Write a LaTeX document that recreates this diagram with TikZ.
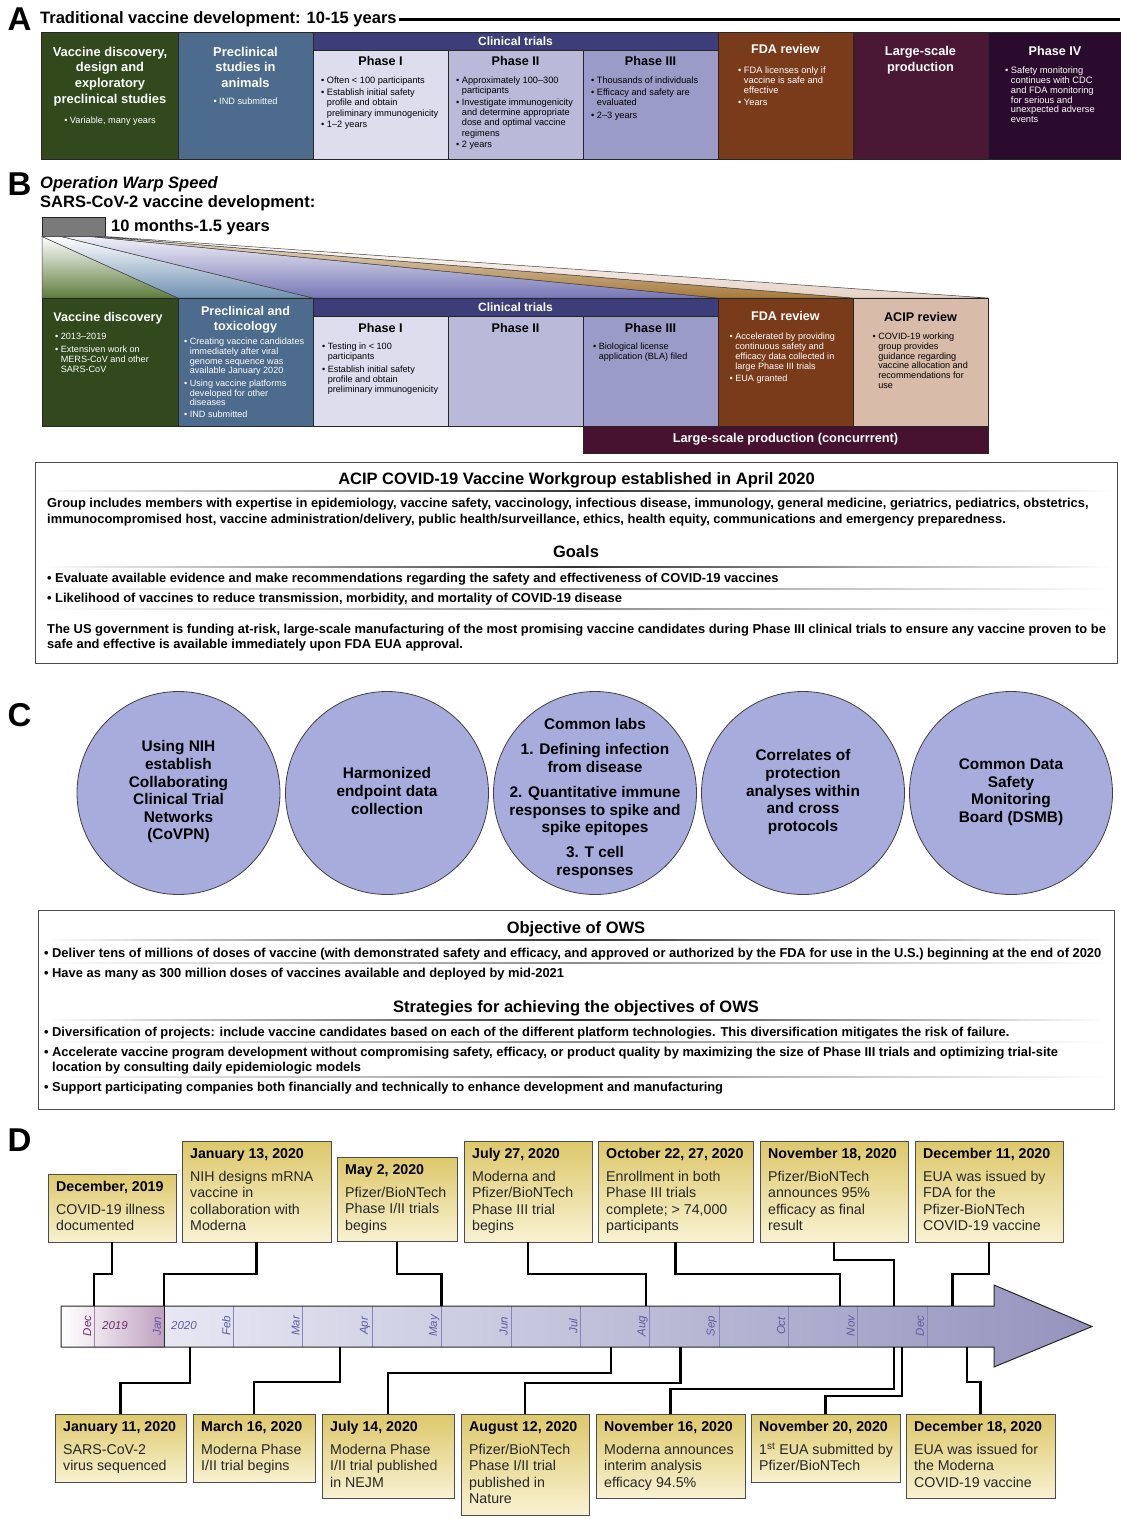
\documentclass[tikz,border=0pt]{standalone}
\usepackage{fontspec}
\setmainfont{Liberation Sans}
\definecolor{cGreen}{HTML}{31491D}
\definecolor{cBlue}{HTML}{4D6B8C}
\definecolor{cCT}{HTML}{3D3D7A}
\definecolor{cP1}{HTML}{DDDDEE}
\definecolor{cP2}{HTML}{B9B9DA}
\definecolor{cP3}{HTML}{9B9BC8}
\definecolor{cFDA}{HTML}{7A3B1B}
\definecolor{cLSP}{HTML}{4A1834}
\definecolor{cP4}{HTML}{2B0B2D}
\definecolor{cACIP}{HTML}{D9BBAA}
\definecolor{cLSPb}{HTML}{46122F}
\definecolor{cGray}{HTML}{7A7A7A}
\definecolor{cCirc}{HTML}{A8ACDD}
\definecolor{evT}{HTML}{DDC86A}
\definecolor{evB}{HTML}{F8F2D2}
\definecolor{cMon}{HTML}{5D5DA2}
\definecolor{cNine}{HTML}{6E2C70}
\definecolor{cDiv}{HTML}{8585BE}
\definecolor{wG}{HTML}{5F7D3E}
\definecolor{wB}{HTML}{7090B2}
\definecolor{wP}{HTML}{7676B6}
\definecolor{wT}{HTML}{A77A3C}
\definecolor{wL}{HTML}{E6D2C6}
\newcommand{\fsz}[2]{\fontsize{#1}{#2}\selectfont}
\newcommand{\mybul}{\makebox[0.62em][l]{•}}
\newcommand{\myind}{\hspace*{0.62em}}
\newcommand{\evbox}[7]{%
  \node[evb, minimum width=#3, minimum height={35+16.5*#5}] (#1) at (#2,#4) {};
  \node[evt, anchor=north west] (#1t) at ([shift={(8,6.9)}]#1.north west) {{\color{black}\bfseries #6}\\[6.5pt]#7};
}
\newcommand{\fadeline}[4]{\shade[left color=white, right color=white, middle color=#4] (#1,{#3-0.6}) rectangle (#2,{#3+0.6});}
\begin{document}
\begin{tikzpicture}[x=1pt,y=-1pt,
  bxs/.style={draw=black!85, line width=0.6pt, inner sep=0pt, outer sep=0pt, anchor=north west},
  ttl/.style={inner sep=0pt, align=center, font=\bfseries\fsz{12.9}{15.7}},
  tx/.style={inner sep=0pt, align=left, anchor=north west},
  smA/.style={font=\fsz{9.2}{10.4}},
  smB/.style={font=\fsz{9.1}{10}},
  big/.style={inner sep=0pt, anchor=north west, font=\bfseries\fsz{33}{33}},
  hd/.style={inner sep=0pt, anchor=base west, font=\bfseries\fsz{16.5}{18}},
  sect/.style={inner sep=0pt, anchor=base, font=\bfseries\fsz{16.5}{18}},
  pb/.style={inner sep=0pt, align=left, anchor=north west, font=\bfseries\fsz{12.9}{15.5}},
  circ/.style={circle, draw=black!75, line width=0.8pt, fill=cCirc, minimum size=203, inner sep=0pt},
  ctx/.style={inner sep=0pt, align=center, anchor=north, font=\bfseries\fsz{15.4}{17.6}},
  mon/.style={inner sep=0pt, rotate=90, font=\itshape\fsz{11.5}{12}, text=cMon},
  conn/.style={line width=2.4pt, line join=miter},
  evb/.style={draw=black!70, line width=1pt, top color=evT, bottom color=evB, inner sep=0pt, outer sep=0pt, anchor=north west},
  evt/.style={inner sep=0pt, align=left, font=\fsz{14.2}{16.5}, text=black!85}
]
\useasboundingbox (0,0) rectangle (1120,1519);

% ================= A =================
\node[big] (labA) at (7.5,7.5) {A};
\node[hd] (titA) at (40,23.5) {Traditional vaccine development: 10-15 years};
\coordinate (lineA) at (1120,19.5);
\draw[line width=2.2pt] ([xshift=2pt]titA.east |- lineA) -- (lineA);

\node[bxs, fill=cGreen, minimum width=137, minimum height=127] (a1) at (41,32) {};
\node[bxs, fill=cBlue, minimum width=135, minimum height=127] (a2) at (178,32) {};
\node[bxs, fill=cCT, minimum width=405, minimum height=18] (a3) at (313,32) {};
\node[bxs, fill=cP1, minimum width=135, minimum height=109] (a4) at (313,50) {};
\node[bxs, fill=cP2, minimum width=135, minimum height=109] (a5) at (448,50) {};
\node[bxs, fill=cP3, minimum width=135, minimum height=109] (a6) at (583,50) {};
\node[bxs, fill=cFDA, minimum width=135, minimum height=127] (a7) at (718,32) {};
\node[bxs, fill=cLSP, minimum width=135, minimum height=127] (a8) at (853,32) {};
\node[bxs, fill=cP4, minimum width=133, minimum height=127] (a9) at (988,32) {};

\node[ttl, text=white, anchor=north] (a1t) at (110,46.5) {Vaccine discovery,\\design and\\exploratory\\preclinical studies};
\node[smA, inner sep=0pt, text=white] (a1b) at (110,121) {\mybul Variable, many years};
\node[ttl, text=white, anchor=north] (a2t) at (245.5,46.5) {Preclinical\\studies in\\animals};
\node[smA, inner sep=0pt, text=white] (a2b) at (245.5,101) {\mybul IND submitted};
\node[inner sep=0pt, text=white, font=\bfseries\fsz{12}{14}] (a3t) at (515.5,41) {Clinical trials};
\node[inner sep=0pt, font=\bfseries\fsz{12.6}{14}] (a4t) at (380.5,61) {Phase I};
\node[inner sep=0pt, font=\bfseries\fsz{12.6}{14}] (a5t) at (515.5,61) {Phase II};
\node[inner sep=0pt, font=\bfseries\fsz{12.6}{14}] (a6t) at (650.5,61) {Phase III};
\node[tx, smA] (a4b) at (321,76.7) {\mybul Often < 100 participants\\[1.4pt]\mybul Establish initial safety\\\myind profile and obtain\\\myind preliminary immunogenicity\\[1.4pt]\mybul 1–2 years};
\node[tx, smA, font=\fsz{9.2}{10.2}] (a5b) at (456,76.7) {\mybul Approximately 100–300\\\myind participants\\[1.6pt]\mybul Investigate immunogenicity\\\myind and determine appropriate\\\myind dose and optimal vaccine\\\myind regimens\\[1.6pt]\mybul 2 years};
\node[tx, smA] (a6b) at (591,76.7) {\mybul Thousands of individuals\\[1.4pt]\mybul Efficacy and safety are\\\myind evaluated\\[2.4pt]\mybul 2–3 years};
\node[inner sep=0pt, text=white, font=\bfseries\fsz{12.6}{14}] (a7t) at (785.5,49) {FDA review};
\node[tx, text=white, font=\fsz{9.3}{9.8}] (a7b) at (738,66.7) {\mybul FDA licenses only if\\\myind vaccine is safe and\\\myind effective\\[2pt]\mybul Years};
\node[ttl, text=white, anchor=north, font=\bfseries\fsz{12.8}{15.8}] (a8t) at (920.5,46.5) {Large-scale\\production};
\node[inner sep=0pt, text=white, font=\bfseries\fsz{12.6}{14}] (a9t) at (1055,51) {Phase IV};
\node[tx, text=white, font=\fsz{9.3}{9.8}] (a9b) at (1005,66.7) {\mybul Safety monitoring\\\myind continues with CDC\\\myind and FDA monitoring\\\myind for serious and\\\myind unexpected adverse\\\myind events};

% ================= B =================
\node[big] (labB) at (7.5,172.5) {B};
\node[hd, font=\bfseries\itshape\fsz{16.5}{18}] (titB1) at (40,188) {Operation Warp Speed};
\node[hd] (titB2) at (40,207) {SARS-CoV-2 vaccine development:};
\node[bxs, fill=cGray, minimum width=63, minimum height=19.5] (b0) at (42,217) {};
\node[hd] (b0t) at (111,231) {10 months-1.5 years};

% wedges
\shade[top color=white, bottom color=wG, draw=black!75, line width=0.5pt] (42,236.5) -- (178,298) -- (42,298) -- cycle;
\shade[top color=white, bottom color=wB, draw=black!75, line width=0.5pt] (42,236.5) -- (61,236.5) -- (313,298) -- (178,298) -- cycle;
\shade[top color=cP1!40!white, bottom color=wP, draw=black!75, line width=0.5pt] (61,236.5) -- (90,236.5) -- (718,298) -- (313,298) -- cycle;
\shade[top color=wT!25!white, bottom color=wT, draw=black!75, line width=0.5pt] (90,236.5) -- (98,236.5) -- (853,298) -- (718,298) -- cycle;
\shade[top color=white, bottom color=wL, draw=black!75, line width=0.5pt] (98,236.5) -- (105,236.5) -- (988,298) -- (853,298) -- cycle;

\node[bxs, fill=cGreen, minimum width=136, minimum height=128] (b1) at (42,298) {};
\node[bxs, fill=cBlue, minimum width=135, minimum height=128] (b2) at (178,298) {};
\node[bxs, fill=cCT, minimum width=405, minimum height=18] (b3) at (313,298) {};
\node[bxs, fill=cP1, minimum width=135, minimum height=110] (b4) at (313,316) {};
\node[bxs, fill=cP2, minimum width=135, minimum height=110] (b5) at (448,316) {};
\node[bxs, fill=cP3, minimum width=135, minimum height=110] (b6) at (583,316) {};
\node[bxs, fill=cFDA, minimum width=135, minimum height=128] (b7) at (718,298) {};
\node[bxs, fill=cACIP, minimum width=135, minimum height=128] (b8) at (853,298) {};
\node[bxs, fill=cLSPb, minimum width=405, minimum height=27] (b9) at (583,426) {};

\node[inner sep=0pt, text=white, font=\bfseries\fsz{12.6}{14}] (b1t) at (108,318.5) {Vaccine discovery};
\node[tx, smB, text=white] (b1b) at (55,332.8) {\mybul 2013–2019\\[3pt]\mybul Extensiven work on\\\myind MERS-CoV and other\\\myind SARS-CoV};
\node[ttl, text=white, anchor=north, font=\bfseries\fsz{12.6}{15}] (b2t) at (245.5,306.4) {Preclinical and\\toxicology};
\node[tx, smB, font=\fsz{9.1}{9.8}, text=white] (b2b) at (184,337.7) {\mybul Creating vaccine candidates\\\myind immediately after viral\\\myind genome sequence was\\\myind available January 2020\\[2.6pt]\mybul Using vaccine platforms\\\myind developed for other\\\myind diseases\\[2.2pt]\mybul IND submitted};
\node[inner sep=0pt, text=white, font=\bfseries\fsz{12}{14}] (b3t) at (515.5,307) {Clinical trials};
\node[inner sep=0pt, font=\bfseries\fsz{12.6}{14}] (b4t) at (380.5,328) {Phase I};
\node[inner sep=0pt, font=\bfseries\fsz{12.6}{14}] (b5t) at (515.5,328) {Phase II};
\node[inner sep=0pt, font=\bfseries\fsz{12.6}{14}] (b6t) at (650.5,328) {Phase III};
\node[tx, smB] (b4b) at (322,342.7) {\mybul Testing in < 100\\\myind participants\\[3pt]\mybul Establish initial safety\\\myind profile and obtain\\\myind preliminary immunogenicity};
\node[tx, smB] (b6b) at (593,342.7) {\mybul Biological license\\\myind application (BLA) filed};
\node[inner sep=0pt, text=white, font=\bfseries\fsz{12.6}{14}] (b7t) at (785.5,316) {FDA review};
\node[tx, smB, text=white] (b7b) at (729.5,332.7) {\mybul Accelerated by providing\\\myind continuous safety and\\\myind efficacy data collected in\\\myind large Phase III trials\\[2pt]\mybul EUA granted};
\node[inner sep=0pt, font=\bfseries\fsz{12.6}{14}] (b8t) at (920.5,317) {ACIP review};
\node[tx, smB, font=\fsz{9.1}{9.8}] (b8b) at (872.5,332.7) {\mybul COVID-19 working\\\myind group provides\\\myind guidance regarding\\\myind vaccine allocation and\\\myind recommendations for\\\myind use};
\node[inner sep=0pt, text=white, font=\bfseries\fsz{12.8}{14}] (b9t) at (785.5,439) {Large-scale production (concurrrent)};

% ACIP box
\node[bxs, draw=black!70, line width=0.8pt, minimum width=1082, minimum height=201] (acip) at (35,462) {};
\node[sect] (acT) at (576.5,484.8) {ACIP COVID-19 Vaccine Workgroup established in April 2020};
\fadeline{40}{1112}{491}{black!80}
\node[pb, font=\bfseries\fsz{12.9}{16}] (acP) at (47,498.4) {Group includes members with expertise in epidemiology, vaccine safety, vaccinology, infectious disease, immunology, general medicine, geriatrics, pediatrics, obstetrics,\\immunocompromised host, vaccine administration/delivery, public health/surveillance, ethics, health equity, communications and emergency preparedness.};
\node[sect] (acG) at (576,557.9) {Goals};
\fadeline{40}{1112}{567}{black!80}
\node[pb] (acB1) at (47,573.4) {\mybul Evaluate available evidence and make recommendations regarding the safety and effectiveness of COVID-19 vaccines};
\fadeline{40}{1112}{589}{black!45}
\node[pb] (acB2) at (47,593.4) {\mybul Likelihood of vaccines to reduce transmission, morbidity, and mortality of COVID-19 disease};
\fadeline{40}{1112}{609}{black!45}
\node[pb, font=\bfseries\fsz{12.9}{15}] (acF) at (47,624.4) {The US government is funding at-risk, large-scale manufacturing of the most promising vaccine candidates during Phase III clinical trials to ensure any vaccine proven to be\\safe and effective is available immediately upon FDA EUA approval.};

% ================= C =================
\node[big] (labC) at (7.5,703.5) {C};
\node[circ] (c1) at (178.5,793) {};
\node[circ] (c2) at (387,793) {};
\node[circ] (c3) at (595,793) {};
\node[circ] (c4) at (803,793) {};
\node[circ] (c5) at (1011,793) {};
\node[ctx] (c1t) at (178.5,740.5) {Using NIH\\establish\\Collaborating\\Clinical Trial\\Networks\\(CoVPN)};
\node[ctx] (c2t) at (387,767.5) {Harmonized\\endpoint data\\collection};
\node[ctx] (c3t) at (595,718.5) {Common labs\\[7.4pt]1. Defining infection\\from disease\\[7.4pt]2. Quantitative immune\\responses to spike and\\spike epitopes\\[7.4pt]3. T cell\\responses};
\node[ctx] (c4t) at (803,749.5) {Correlates of\\protection\\analyses within\\and cross\\protocols};
\node[ctx] (c5t) at (1011,758.5) {Common Data\\Safety\\Monitoring\\Board (DSMB)};

% OWS box
\node[bxs, draw=black!70, line width=0.8pt, minimum width=1076, minimum height=199] (ows) at (38,910) {};
\node[sect] (owT) at (576,933.9) {Objective of OWS};
\fadeline{44}{1108}{940}{black!80}
\node[pb] (owB1) at (44,948.4) {\mybul Deliver tens of millions of doses of vaccine (with demonstrated safety and efficacy, and approved or authorized by the FDA for use in the U.S.) beginning at the end of 2020};
\fadeline{44}{1108}{963}{black!45}
\node[pb] (owB2) at (44,968.4) {\mybul Have as many as 300 million doses of vaccines available and deployed by mid-2021};
\node[sect] (owS) at (576,1012.9) {Strategies for achieving the objectives of OWS};
\fadeline{44}{1108}{1020}{black!80}
\node[pb] (owS1) at (44,1027.4) {\mybul Diversification of projects: include vaccine candidates based on each of the different platform technologies. This diversification mitigates the risk of failure.};
\fadeline{44}{1108}{1042}{black!45}
\node[pb, font=\bfseries\fsz{12.9}{15}] (owS2) at (44,1047.4) {\mybul Accelerate vaccine program development without compromising safety, efficacy, or product quality by maximizing the size of Phase III trials and optimizing trial-site\\\myind location by consulting daily epidemiologic models};
\fadeline{44}{1108}{1077}{black!45}
\node[pb] (owS3) at (44,1082.4) {\mybul Support participating companies both financially and technically to enhance development and manufacturing};

% ================= D =================
\node[big] (labD) at (7.5,1128.5) {D};

% timeline arrow
\shade[left color=white, right color=cNine!12!white] (61,1306) rectangle (94.3,1347);
\shade[left color=cNine!12!white, right color=cNine!45!white] (94.3,1306) rectangle (164,1347);
\shade[left color=cP1!70!white, right color=cP3!95!black] (164,1306) -- (994,1306) -- (994,1285) -- (1092,1326.5) -- (994,1367) -- (994,1347) -- (164,1347) -- cycle;
\foreach \k in {1,...,11} \draw[cDiv, line width=0.6pt] ({164+69.36*\k},1306) -- ({164+69.36*\k},1347);
\draw[cNine!60, line width=0.6pt] (94.3,1306) -- (94.3,1347);
\draw[black!85, line width=1pt] (164,1306) -- (164,1347);
\draw[black!85, line width=1pt, line join=miter] (61,1306) -- (994,1306) -- (994,1285) -- (1092,1326.5) -- (994,1367) -- (994,1347) -- (61,1347) -- cycle;
\node[mon, text=cNine] (mDec19) at (87.3,1326) {Dec};
\node[inner sep=0pt, font=\itshape\fsz{11.5}{12}, text=cNine] (y2019) at (115,1326) {2019};
\node[inner sep=0pt, font=\itshape\fsz{11.5}{12}, text=cMon] (y2020) at (184,1326) {2020};
\foreach \m [count=\k from 0] in {Jan,Feb,Mar,Apr,May,Jun,Jul,Aug,Sep,Oct,Nov,Dec}
  \node[mon] (m\k) at ({164+69.36*\k-7},1326) {\m};

% events
\evbox{d1}{48}{128}{1174}{2}{December, 2019}{COVID-19 illness\\documented}
\evbox{d2}{182}{149}{1141}{4}{January 13, 2020}{NIH designs mRNA\\vaccine in\\collaboration with\\Moderna}
\evbox{d3}{337}{120}{1157}{3}{May 2, 2020}{Pfizer/BioNTech\\Phase I/II trials\\begins}
\evbox{d4}{464}{128}{1141}{4}{July 27, 2020}{Moderna and\\Pfizer/BioNTech\\Phase III trial\\begins}
\evbox{d5}{598}{155}{1141}{4}{October 22, 27, 2020}{Enrollment in both\\Phase III trials\\complete; > 74,000\\participants}
\evbox{d6}{760}{148}{1141}{4}{November 18, 2020}{Pfizer/BioNTech\\announces 95\%\\efficacy as final\\result}
\evbox{d7}{915}{148}{1141}{4}{December 11, 2020}{EUA was issued by\\FDA for the\\Pfizer-BioNTech\\COVID-19 vaccine}
\evbox{u1}{55}{131}{1414}{2}{January 11, 2020}{SARS-CoV-2\\virus sequenced}
\evbox{u2}{193}{122}{1414}{2}{March 16, 2020}{Moderna Phase\\I/II trial begins}
\evbox{u3}{322}{132}{1414}{3}{July 14, 2020}{Moderna Phase\\I/II trial published\\in NEJM}
\evbox{u4}{461}{128}{1414}{4}{August 12, 2020}{Pfizer/BioNTech\\Phase I/II trial\\published in\\Nature}
\evbox{u5}{596}{149}{1414}{3}{November 16, 2020}{Moderna announces\\interim analysis\\efficacy 94.5\%}
\evbox{u6}{751}{149}{1414}{2}{November 20, 2020}{1\textsuperscript{st} EUA submitted by\\Pfizer/BioNTech}
\evbox{u7}{906}{149}{1414}{3}{December 18, 2020}{EUA was issued for\\the Moderna\\COVID-19 vaccine}

% connectors above
\coordinate (hT) at (0,1274);
\coordinate (hT2) at (0,1260);
\coordinate (t1) at (93.7,1306);
\coordinate (t2) at (164,1306);
\coordinate (t3) at (441.5,1306);
\coordinate (t4) at (646,1306);
\coordinate (t5) at (840,1306);
\coordinate (t6) at (894,1306);
\coordinate (t7) at (952.5,1306);
\draw[conn] (d1.south) -- (d1.south |- hT) -| (t1);
\draw[conn] (d2.south) -- (d2.south |- hT) -| (t2);
\draw[conn] (d3.south) -- (d3.south |- hT) -| (t3);
\draw[conn] (d4.south) -- (d4.south |- hT) -| (t4);
\draw[conn] (d5.south) -- (d5.south |- hT) -| (t5);
\draw[conn] (d6.south) -- (d6.south |- hT2) -| (t6);
\draw[conn] (d7.south) -- (d7.south |- hT) -| (t7);

% connectors below
\coordinate (q1) at (190,1347);
\coordinate (q2) at (340,1347);
\coordinate (q3) at (611,1347);
\coordinate (q4) at (680.5,1347);
\coordinate (q5) at (894,1347);
\coordinate (q6) at (902,1347);
\coordinate (q7) at (967,1347);
\coordinate (hB1) at (0,1383);
\coordinate (hB2) at (0,1382);
\coordinate (hB3) at (0,1373);
\coordinate (hB4) at (0,1383);
\coordinate (hB5) at (0,1389);
\coordinate (hB6) at (0,1396);
\coordinate (hB7) at (0,1382);
\draw[conn] (q1) -- (q1 |- hB1) -| (u1.north);
\draw[conn] (q2) -- (q2 |- hB2) -| (u2.north);
\draw[conn] (q3) -- (q3 |- hB3) -| (u3.north);
\draw[conn] (q4) -- (q4 |- hB4) -| (u4.north);
\draw[conn] (q5) -- (q5 |- hB5) -| (u5.north);
\draw[conn] (q6) -- (q6 |- hB6) -| (u6.north);
\draw[conn] (q7) -- (q7 |- hB7) -| (u7.north);
\end{tikzpicture}
\end{document}
